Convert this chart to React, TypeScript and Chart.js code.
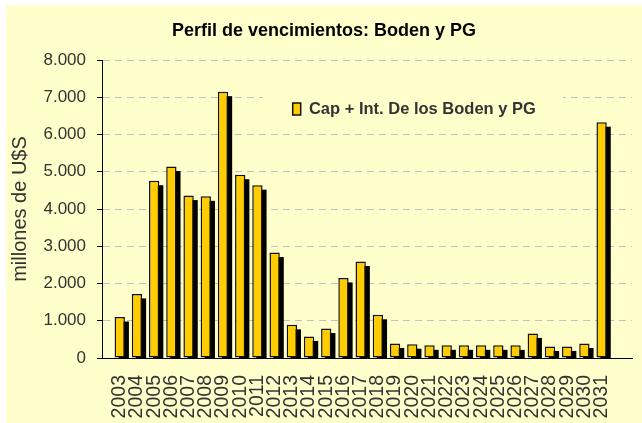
import React, { useEffect, useRef } from 'react';
import { Chart, registerables } from 'chart.js';

Chart.register(...registerables);

const TITLE = 'Perfil de vencimientos: Boden y PG';
const SERIES_LABEL = 'Cap + Int. De los Boden y PG';
const Y_TITLE = 'millones de U$S';

const YEARS = [
  '2003', '2004', '2005', '2006', '2007', '2008', '2009', '2010', '2011', '2012',
  '2013', '2014', '2015', '2016', '2017', '2018', '2019', '2020', '2021', '2022',
  '2023', '2024', '2025', '2026', '2027', '2028', '2029', '2030', '2031',
];

const VALUES = [
  1100, 1720, 4760, 5140, 4360, 4340, 7150, 4920, 4640, 2830,
  890, 580, 790, 2150, 2590, 1160, 390, 370, 340, 340,
  340, 340, 340, 340, 660, 310, 310, 390, 6330,
];

const Y_MIN = 0;
const Y_MAX = 8000;
const Y_STEP = 1000;

const FONT = "'Liberation Sans', Arial, Helvetica, sans-serif";
const BG = '#FFFFCC';
const BAR = '#FFCC00';
const TEXT = '#333333';

Chart.defaults.font.family = FONT;

const fmt = (v: number) => String(v).replace(/\B(?=(\d{3})+(?!\d))/g, '.');

const barShadow = {
  id: 'barShadow',
  beforeDatasetsDraw(chart: any) {
    const { ctx, chartArea } = chart;
    const meta = chart.getDatasetMeta(0);
    ctx.save();
    ctx.beginPath();
    ctx.rect(chartArea.left, chartArea.top, chartArea.right - chartArea.left, chartArea.bottom - chartArea.top);
    ctx.clip();
    ctx.fillStyle = '#000000';
    meta.data.forEach((el: any) => {
      const { x, y, base, width } = el.getProps(['x', 'y', 'base', 'width'], true);
      ctx.fillRect(x - width / 2 + 4, y + 4.5, width, base - y);
    });
    ctx.restore();
  },
};

const legendPlacer = {
  id: 'legendPlacer',
  afterLayout(chart: any) {
    const lg = chart.legend;
    if (!lg) return;
    const ca = chart.chartArea;
    const w = lg.width;
    const h = lg.height;
    lg.left = ca.left + 180.7;
    lg.top = ca.top + 30.75;
    lg.right = lg.left + w;
    lg.bottom = lg.top + h;
    if (!lg.__bgWrapped) {
      lg.__bgWrapped = true;
      const orig = lg.draw.bind(lg);
      lg.draw = (area: any) => {
        const c = lg.ctx;
        c.save();
        c.fillStyle = BG;
        c.fillRect(lg.left - 19.7, lg.top + 1.25, 300, 34);
        c.restore();
        orig(area);
      };
    }
  },
};

export default function App() {
  const ref = useRef<HTMLCanvasElement | null>(null);

  useEffect(() => {
    if (!ref.current) return;
    const chart = new Chart(ref.current, {
      type: 'bar',
      data: {
        datasets: [
          {
            label: SERIES_LABEL,
            data: VALUES.map((v, i) => ({ x: i, y: v })),
            backgroundColor: BAR,
            borderColor: '#111111',
            borderWidth: 1.5,
            borderSkipped: false,
            barPercentage: 0.6,
            categoryPercentage: 1,
          },
        ],
      },
      options: {
        animation: false,
        responsive: true,
        maintainAspectRatio: false,
        layout: { padding: 0 },
        plugins: {
          title: {
            display: true,
            text: TITLE,
            color: '#000000',
            font: { family: FONT, size: 18, weight: 'bold' },
            padding: { top: 15, bottom: 18.4 },
          },
          legend: {
            display: true,
            position: 'chartArea',
            align: 'start',
            labels: {
              boxWidth: 8,
              boxHeight: 12,
              padding: 10,
              color: TEXT,
              font: { family: FONT, size: 16.5, weight: 'bold' },
            },
          },
          tooltip: { enabled: false },
        },
        scales: {
          x: {
            type: 'linear',
            min: -0.5,
            max: 29.25,
            afterBuildTicks: (scale: any) => {
              scale.ticks = YEARS.map((_, i) => ({ value: i }));
            },
            afterFit: (scale: any) => {
              scale.height = 65;
            },
            grid: { display: false, drawTicks: false },
            border: { display: true, color: '#000000', width: 1 },
            ticks: {
              autoSkip: false,
              minRotation: 90,
              maxRotation: 90,
              padding: 17,
              color: TEXT,
              font: { family: FONT, size: 19.5 },
              callback: (v: any) => YEARS[Math.round(Number(v))] ?? '',
            },
          },
          y: {
            min: Y_MIN,
            max: Y_MAX,
            afterFit: (scale: any) => {
              scale.width = 96;
            },
            ticks: {
              stepSize: Y_STEP,
              padding: 11,
              color: TEXT,
              font: { family: FONT, size: 17 },
              callback: (v: any) => fmt(Number(v)),
            },
            grid: {
              color: '#c0c0c0',
              lineWidth: 1,
              drawTicks: true,
              tickLength: 5,
              tickColor: '#000000',
              tickWidth: 1,
            },
            border: { display: true, color: '#000000', width: 1, dash: [7, 5] },
            title: {
              display: true,
              text: Y_TITLE,
              color: TEXT,
              font: { family: FONT, size: 20 },
              padding: { top: 2, bottom: 0 },
            },
          },
        },
      } as any,
      plugins: [barShadow, legendPlacer],
    });
    return () => chart.destroy();
  }, []);

  return (
    <div
      style={{
        position: 'absolute',
        left: 6,
        top: 5,
        width: 636,
        height: 418,
        background: BG,
      }}
    >
      <canvas ref={ref} />
    </div>
  );
}
